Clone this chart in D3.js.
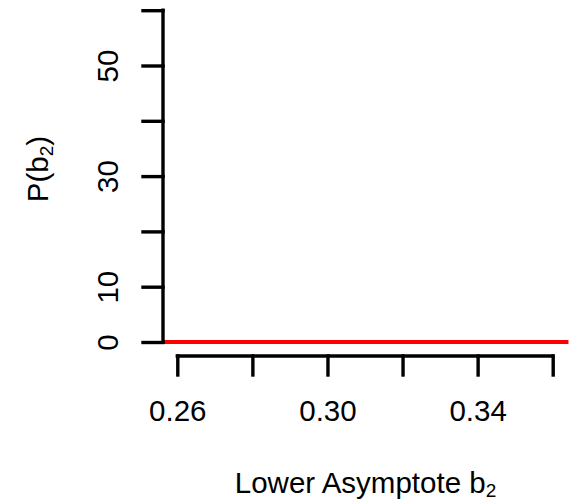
<!DOCTYPE html>
<html>
<head>
<meta charset="utf-8">
<script src="https://cdn.jsdelivr.net/npm/d3@7"></script>
<style>
  html, body { margin: 0; padding: 0; background: #fff; }
  svg { display: block; }
  text { font-family: "Liberation Sans", Arial, sans-serif; fill: #000; }
</style>
</head>
<body>
<svg id="chart" width="580" height="502"></svg>
<script>
// ---- data ----
const curveX = [0.2562, 0.28, 0.30, 0.32, 0.34, 0.3642];
const curveY = [0, 0, 0, 0, 0, 0];
const xTickValues = [0.26, 0.28, 0.30, 0.32, 0.34, 0.36];
const xTickLabels = ["0.26", "", "0.30", "", "0.34", ""];
const yTickValues = [0, 10, 20, 30, 40, 50, 60];
const yTickLabels = ["0", "10", "", "30", "", "50", ""];
const xTitle = "Lower Asymptote b";
const yTitle = "P(b";
const sub = "2";

// ---- layout ----
const svg = d3.select("#chart");
const x = d3.scaleLinear().domain([0.26, 0.36]).range([177.3, 552.7]);
const y = d3.scaleLinear().domain([0, 60]).range([342, 10.2]);
const axisX = 163, axisY = 356;
const fs = 29.5, subFs = 19;

// curve
const pts = curveX.map((v, i) => [v, curveY[i]]);
svg.append("path")
  .datum(pts)
  .attr("d", d3.line().x(d => x(d[0])).y(d => y(d[1])))
  .attr("fill", "none")
  .attr("stroke", "#ff0000")
  .attr("stroke-width", 3.8);

// x axis
const gx = svg.append("g").attr("transform", `translate(0,${axisY})`)
  .call(d3.axisBottom(x).tickValues(xTickValues)
    .tickFormat((d, i) => xTickLabels[i]).tickSize(19).tickPadding(0).tickSizeOuter(0));
gx.select(".domain").attr("d", `M${x(0.26)},0H${x(0.36)}`)
  .attr("stroke", "#000").attr("stroke-width", 3.4).attr("stroke-linecap", "square");
gx.selectAll(".tick line").attr("stroke", "#000").attr("stroke-width", 3.4).attr("stroke-linecap", "square");
gx.selectAll(".tick text")
  .attr("y", 64.5).attr("dy", null)
  .style("font-size", fs + "px").style("font-family", "Liberation Sans, Arial, sans-serif")
  .attr("fill", "#000");

// y axis
const gy = svg.append("g").attr("transform", `translate(${axisX},0)`)
  .call(d3.axisLeft(y).tickValues(yTickValues)
    .tickFormat((d, i) => yTickLabels[i]).tickSize(20).tickPadding(0).tickSizeOuter(0));
gy.select(".domain").attr("d", `M0,${y(0)}V${y(60)}`)
  .attr("stroke", "#000").attr("stroke-width", 3.4).attr("stroke-linecap", "square");
gy.selectAll(".tick line").attr("stroke", "#000").attr("stroke-width", 3.4).attr("stroke-linecap", "square");
gy.selectAll(".tick text")
  .attr("x", null).attr("dy", null)
  .attr("text-anchor", "middle")
  .attr("transform", "translate(-45,0) rotate(-90)")
  .style("font-size", fs + "px").style("font-family", "Liberation Sans, Arial, sans-serif")
  .attr("fill", "#000");

// x title
const xt = svg.append("text")
  .attr("x", 365.5).attr("y", 493)
  .attr("text-anchor", "middle")
  .style("font-size", fs + "px");
xt.append("tspan").text(xTitle);
xt.append("tspan").text(sub).style("font-size", subFs + "px").attr("dy", 4);

// y title
const yt = svg.append("text")
  .attr("transform", "translate(48,169) rotate(-90)")
  .attr("text-anchor", "middle")
  .style("font-size", fs + "px");
yt.append("tspan").text(yTitle);
yt.append("tspan").text(sub).style("font-size", subFs + "px").attr("dy", 5);
yt.append("tspan").text(")").attr("dy", -5);
</script>
</body>
</html>
